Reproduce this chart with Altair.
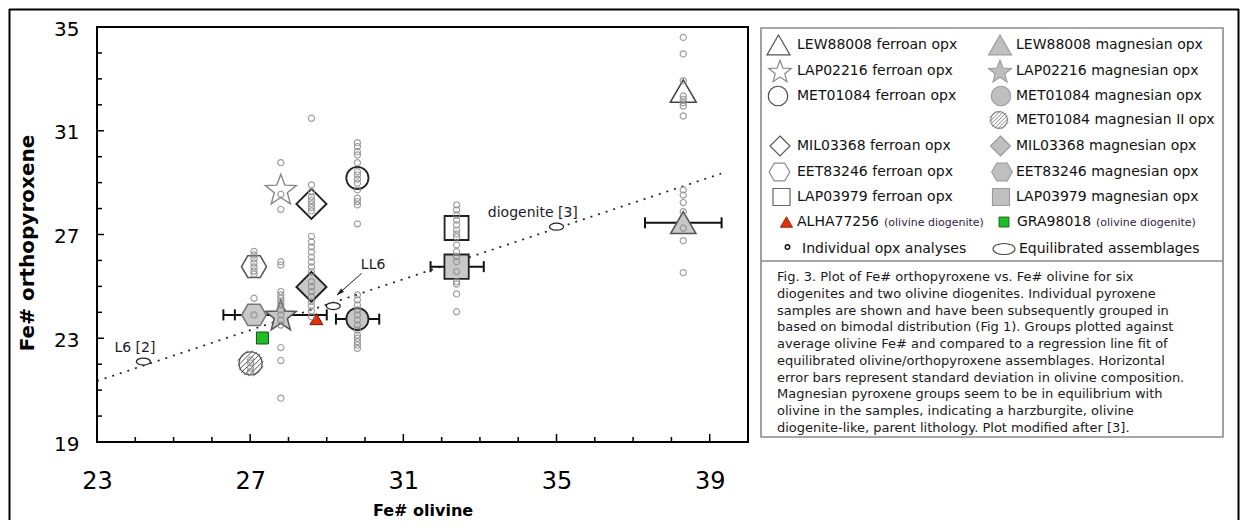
import altair as alt
import numpy as np
import pandas as pd

# ---------------- data ----------------
# individual opx analyses: olivine Fe# of each column and opx Fe# values
EET83246_ol = 27.10
EET83246_opx = [26.35, 26.21, 26.06, 25.90, 25.75, 25.59, 25.48, 24.54, 23.90]
MET01084_II_ol = 27.01
MET01084_II_opx = [22.16, 22.05, 21.85, 21.71]
LAP02216_ol = 27.80
LAP02216_opx = [29.77, 28.55, 27.97, 25.95, 25.82, 24.80, 24.67, 24.54, 24.41, 24.28,
                24.09, 23.90, 23.70, 23.51, 22.64, 22.14, 20.69]
MIL03368_ol = 28.60
MIL03368_opx = [31.48, 28.91, 28.64, 28.45, 28.31, 28.18, 28.04, 27.91, 26.93, 26.71,
                26.52, 26.33, 26.13, 25.94, 25.75, 25.56, 25.18, 24.99, 24.80, 24.60,
                24.41, 24.24, 24.05, 23.83]
MET01084_ol = 29.80
MET01084_opx = [30.54, 30.39, 30.19, 30.07, 29.77, 29.42, 29.29, 29.13, 28.98, 28.72,
                28.40, 28.27, 28.14, 27.41, 24.67, 24.48, 24.28, 24.09, 23.90, 23.70,
                23.51, 23.32, 23.12, 23.00, 22.87, 22.74, 22.61]
LAP03979_ol = 32.39
LAP03979_opx = [28.14, 27.95, 27.75, 27.56, 27.37, 27.17, 27.02, 26.90, 26.60, 26.34,
                26.15, 25.95, 25.57, 25.18, 25.09, 24.71, 24.02]
LEW88008_ol = 38.31
LEW88008_opx = [34.60, 33.96, 32.93, 32.34, 32.21, 32.08, 31.95, 31.57, 28.72, 28.52,
                28.23, 27.88, 27.24, 26.76, 25.53]

# group averages
group_name = ["LEW88008 ferroan", "LEW88008 magnesian", "LAP02216 ferroan", "LAP02216 magnesian",
              "MET01084 ferroan", "MET01084 magnesian", "MET01084 magnesian II",
              "MIL03368 ferroan", "MIL03368 magnesian", "EET83246 ferroan", "EET83246 magnesian",
              "LAP03979 ferroan", "LAP03979 magnesian", "ALHA77256", "GRA98018"]
group_ol = [38.31, 38.31, 27.80, 27.80, 29.80, 29.80, 27.01, 28.60, 28.60, 27.10, 27.10,
            32.39, 32.39, 28.73, 27.32]
group_opx = [32.53, 27.46, 28.75, 23.90, 29.18, 23.74, 22.03, 28.18, 24.98, 25.76, 23.90,
             27.25, 25.76, 23.74, 23.01]

# olivine standard deviation (horizontal error bars)
err_name = ["LEW88008 magnesian", "LAP02216 magnesian", "MET01084 magnesian",
            "EET83246 magnesian", "LAP03979 magnesian"]
err_lo = [37.31, 26.60, 29.24, 26.30, 31.71]
err_hi = [39.31, 29.00, 30.37, 27.90, 33.10]
err_opx = [27.45, 23.90, 23.74, 23.90, 25.76]

# equilibrated assemblages
eq_name = ["L6 [2]", "LL6", "diogenite [3]"]
eq_ol = [24.21, 29.17, 35.00]
eq_opx = [22.10, 24.24, 27.30]

# annotation labels
lab_text = ["L6 [2]", "LL6", "diogenite [3]"]
lab_ol = [23.99, 30.21, 34.38]
lab_opx = [22.63, 25.82, 27.83]

# LL6 arrow (start, end)
arrow_ol = [29.91, 29.27]
arrow_opx = [25.50, 24.67]

# regression line through equilibrated assemblages
reg_ol = [23.0, 39.3]
reg_opx = [21.35, 29.35]

# axis ticks
x_tick_labels = [23, 27, 31, 35, 39]
y_tick_labels = [19, 23, 27, 31, 35]
x_minor = [24, 25, 26, 28, 29, 30, 32, 33, 34, 36, 37, 38]
x_major = [27, 31, 35, 39]
y_minor = [20, 21, 22, 24, 25, 26, 28, 29, 30, 32, 33, 34]
y_major = [23, 27, 31]

# legend / caption text
legend_left = ["LEW88008 ferroan opx", "LAP02216 ferroan opx", "MET01084 ferroan opx",
               "MIL03368 ferroan opx", "EET83246 ferroan opx", "LAP03979 ferroan opx"]
legend_right = ["LEW88008 magnesian opx", "LAP02216 magnesian opx", "MET01084 magnesian opx",
                "MET01084 magnesian II opx", "MIL03368 magnesian opx", "EET83246 magnesian opx",
                "LAP03979 magnesian opx"]
caption = [
    "Fig. 3. Plot of Fe# orthopyroxene vs. Fe# olivine for six",
    "diogenites and two olivine diogenites.  Individual pyroxene",
    "samples are shown and have been subsequently grouped in",
    "based on bimodal distribution (Fig 1). Groups plotted against",
    "average olivine Fe# and compared to a regression line fit of",
    "equilibrated olivine/orthopyroxene assemblages. Horizontal",
    "error bars represent standard deviation in olivine composition.",
    "Magnesian pyroxene groups seem to be in equilibrium with",
    "olivine in the samples, indicating a harzburgite, olivine",
    "diogenite-like, parent lithology. Plot modified after [3].",
]

# ---------------- shapes ----------------
def star_path(ri=0.42, dy=0.095):
    pts = []
    for k in range(10):
        a = np.deg2rad(-90 + 36 * k)
        r = 1.0 if k % 2 == 0 else ri
        pts.append((r * np.cos(a), r * np.sin(a) + dy))
    return "M" + "L".join(f"{x:.4f},{y:.4f}" for x, y in pts) + "Z"

def hatch_path(step=0.4):
    segs = []
    c = -1.2
    while c <= 1.21:
        d = np.sqrt(max(2 - c * c, 0))
        x1, x2 = (c - d) / 2, (c + d) / 2
        segs.append(f"M{x1:.4f},{c - x1:.4f}L{x2:.4f},{c - x2:.4f}")
        c += step
    return "".join(segs)

TRI = "M0,-0.866L1,0.866L-1,0.866Z"
STAR = star_path()
DIAM = "M0,-1L1,0L0,1L-1,0Z"
HEX = "M-1,0L-0.5,-0.866L0.5,-0.866L1,0L0.5,0.866L-0.5,0.866Z"
SQR = "M-1,-1L1,-1L1,1L-1,1Z"
ELL = "M-1,0A1,0.5 0 1,0 1,0A1,0.5 0 1,0 -1,0Z"
HATCH = hatch_path()
VBAR = "M0,-1L0,1"
HEAD = "M0,0L0.45,1.6L-0.45,1.6Z"

FONT = "DejaVu Sans"
W, H = 651, 415
OX, OY = 97, 27  # page position of plot origin


def PX(v):
    return v - OX


def PY(v):
    return v - OY


xs = alt.Scale(domain=[23, 40], nice=False, zero=False)
ys = alt.Scale(domain=[19, 35], nice=False, zero=False)

x_axis = alt.Axis(title="Fe# olivine", values=x_tick_labels, ticks=False, domain=False, grid=False,
                  labelFont=FONT, labelFontSize=24, labelColor="#000", labelPadding=46,
                  labelBaseline="alphabetic", labelFlush=False, labelOverlap=False,
                  titleFont=FONT, titleFontSize=16, titleFontWeight="bold", titleColor="#000",
                  titleX=325.5, titleY=73, titleBaseline="alphabetic", titleAlign="center")
y_axis = alt.Axis(title="Fe# orthopyroxene", values=y_tick_labels, ticks=False, domain=False,
                  grid=False, labelFont=FONT, labelFontSize=20, labelColor="#000",
                  labelPadding=18, labelBaseline="middle", labelOffset=2, labelFlush=False,
                  labelOverlap=False, titleFont=FONT, titleFontSize=20, titleFontWeight="bold",
                  titleColor="#000", titleX=-64, titleY=215.5, titleAngle=270,
                  titleBaseline="alphabetic", titleAlign="center")


def X(f="ol"):
    return alt.X(f"{f}:Q", scale=xs, axis=x_axis)


def Y(f="opx"):
    return alt.Y(f"{f}:Q", scale=ys, axis=y_axis)


one = pd.DataFrame({"k": [0]})
layers = []

# ---------------- frame and boxes (page layout) ----------------
layers.append(alt.Chart(one).mark_rule(color="#000", strokeWidth=2).encode(
    x=alt.value(PX(9)), x2=alt.value(PX(1239)), y=alt.value(PY(9.5))))
layers.append(alt.Chart(one).mark_rule(color="#000", strokeWidth=2).encode(
    x=alt.value(PX(9.5)), y=alt.value(PY(9)), y2=alt.value(PY(531))))
layers.append(alt.Chart(one).mark_rule(color="#000", strokeWidth=2).encode(
    x=alt.value(PX(1238.5)), y=alt.value(PY(9)), y2=alt.value(PY(531))))
layers.append(alt.Chart(one).mark_rect(fill="white", stroke="#8a8a8a", strokeWidth=1.6).encode(
    x=alt.value(PX(761)), x2=alt.value(PX(1223)), y=alt.value(PY(28)), y2=alt.value(PY(437))))
layers.append(alt.Chart(one).mark_rule(color="#8a8a8a", strokeWidth=1.6).encode(
    x=alt.value(PX(761)), x2=alt.value(PX(1223)), y=alt.value(PY(261))))

# ---------------- plot content ----------------
reg = pd.DataFrame({"ol": reg_ol, "opx": reg_opx})
layers.append(alt.Chart(reg).mark_line(color="#222", strokeDash=[2, 6], strokeWidth=1.7).encode(
    x=X(), y=Y()))

err = pd.DataFrame({"name": err_name, "lo": err_lo, "hi": err_hi, "opx": err_opx})
layers.append(alt.Chart(err).mark_rule(color="#111", strokeWidth=2).encode(
    x=X("lo"), x2="hi:Q", y=Y()))
for f in ["lo", "hi"]:
    layers.append(alt.Chart(err).mark_point(shape=VBAR, size=121, stroke="#111", strokeWidth=2,
                                            opacity=1).encode(x=X(f), y=Y()))

eq = pd.DataFrame({"name": eq_name, "ol": eq_ol, "opx": eq_opx})
layers.append(alt.Chart(eq).mark_point(shape=ELL, size=196, filled=True, fill="white",
                                       stroke="#222", strokeWidth=1.2, opacity=1).encode(
    x=X(), y=Y()))

arr = pd.DataFrame({"ol": [arrow_ol[0]], "opx": [arrow_opx[0]],
                    "ol2": [arrow_ol[1]], "opx2": [arrow_opx[1]]})
layers.append(alt.Chart(arr).mark_rule(color="#222", strokeWidth=1).encode(
    x=X(), y=Y(), x2="ol2:Q", y2="opx2:Q"))
head = pd.DataFrame({"ol": [arrow_ol[1]], "opx": [arrow_opx[1]]})
layers.append(alt.Chart(head).mark_point(shape=HEAD, size=77, filled=True, fill="#222",
                                         stroke="#222", strokeWidth=0.5, angle=228.7,
                                         opacity=1).encode(x=X(), y=Y()))

groups = pd.DataFrame({"name": group_name, "ol": group_ol, "opx": group_opx})
GFILL = "#c8c8c8"
STYLE = {
    "LEW88008 ferroan": (TRI, 676, None, "#444", 1.5),
    "LEW88008 magnesian": (TRI, 640, GFILL, "#555", 1.5),
    "LAP02216 ferroan": (STAR, 1063, None, "#888", 1.4),
    "LAP02216 magnesian": (STAR, 1063, GFILL, "#555", 1.5),
    "MET01084 ferroan": ("circle", 491, None, "#222", 1.8),
    "MET01084 magnesian": ("circle", 491, GFILL, "#222", 1.8),
    "MET01084 magnesian II": ("circle", 531, "white", "#555", 1.3),
    "MIL03368 ferroan": (DIAM, 900, None, "#222", 2.0),
    "MIL03368 magnesian": (DIAM, 900, GFILL, "#222", 2.0),
    "EET83246 ferroan": (HEX, 625, None, "#555", 1.5),
    "EET83246 magnesian": (HEX, 600, GFILL, "#777", 1.5),
    "LAP03979 ferroan": (SQR, 576, None, "#222", 1.8),
    "LAP03979 magnesian": (SQR, 590, GFILL, "#222", 1.8),
    "ALHA77256": (TRI, 169, "#e2300e", "#7a1a05", 1.0),
    "GRA98018": (SQR, 144, "#1fbe22", "#1d4d1d", 1.0),
}
for name in group_name:
    shape, size, fill, stroke, sw = STYLE[name]
    if fill is None:
        mk = alt.Chart(groups).mark_point(shape=shape, size=size, filled=False, stroke=stroke,
                                          strokeWidth=sw, opacity=1)
    else:
        mk = alt.Chart(groups).mark_point(shape=shape, size=size, filled=True, fill=fill,
                                          stroke=stroke, strokeWidth=sw, opacity=1)
    layers.append(mk.transform_filter(alt.datum.name == name).encode(x=X(), y=Y()))
# hatching of MET01084 magnesian II
layers.append(alt.Chart(groups).mark_point(shape=HATCH, size=676, filled=False, stroke="#555",
                                           strokeWidth=1, opacity=1).transform_filter(
    alt.datum.name == "MET01084 magnesian II").encode(x=X(), y=Y()))

cols = [(EET83246_ol, EET83246_opx), (MET01084_II_ol, MET01084_II_opx),
        (LAP02216_ol, LAP02216_opx), (MIL03368_ol, MIL03368_opx),
        (MET01084_ol, MET01084_opx), (LAP03979_ol, LAP03979_opx),
        (LEW88008_ol, LEW88008_opx)]
ind = pd.DataFrame([{"ol": c, "opx": v} for c, vals in cols for v in vals])
layers.append(alt.Chart(ind).mark_point(shape="circle", size=38, filled=False, stroke="#8f8f8f",
                                        strokeWidth=1.2, opacity=0.85).encode(x=X(), y=Y()))

labs = pd.DataFrame({"t": lab_text, "ol": lab_ol, "opx": lab_opx})
layers.append(alt.Chart(labs).mark_text(font=FONT, fontSize=14, color="#1a1a2a",
                                        baseline="middle", align="center").encode(
    x=X(), y=Y(), text="t:N"))

# axis ticks (inward)
for vals, ln in [(x_minor, 5), (x_major, 8)]:
    d = pd.DataFrame({"ol": vals})
    layers.append(alt.Chart(d).mark_rule(color="#000", strokeWidth=1.5).encode(
        x=X(), y=alt.value(H), y2=alt.value(H - ln)))
for vals, ln in [(y_minor, 5), (y_major, 7)]:
    d = pd.DataFrame({"opx": vals})
    layers.append(alt.Chart(d).mark_rule(color="#000", strokeWidth=1.5).encode(
        y=Y(), x=alt.value(0), x2=alt.value(ln)))

# ---------------- legend ----------------
ROW_Y = [45, 71, 96, 120, 146, 172, 197, 222, 249]
LFILL = "#bfbfbf"


def sym(x, y, shape, size, fill, stroke, sw=1.2):
    if fill is None:
        m = alt.Chart(one).mark_point(shape=shape, size=size, filled=False, stroke=stroke,
                                      strokeWidth=sw, opacity=1)
    else:
        m = alt.Chart(one).mark_point(shape=shape, size=size, filled=True, fill=fill,
                                      stroke=stroke, strokeWidth=sw, opacity=1)
    return m.encode(x=alt.value(PX(x)), y=alt.value(PY(y)))


def txt(x, y, s, size=14, color="#111"):
    return alt.Chart(one).mark_text(text=s, font=FONT, fontSize=size, color=color, align="left",
                                    baseline="middle").encode(x=alt.value(PX(x)),
                                                              y=alt.value(PY(y)))


left_syms = [(778.5, TRI, 529, "#555"), (780, STAR, 560, "#888"), (778, "circle", 380, "#444"),
             (780, DIAM, 400, "#555"), (779.5, HEX, 428, "#888"), (781.5, SQR, 289, "#666")]
left_rows = [0, 1, 2, 4, 5, 6]
for (sx, sh, sz, st), r, lab in zip(left_syms, left_rows, legend_left):
    layers.append(sym(sx, ROW_Y[r], sh, sz, None, st))
    layers.append(txt(797, ROW_Y[r], lab))

right_syms = [(1000, TRI, 529), (1000, STAR, 580), (1001, "circle", 380), (999, "circle", 283),
              (1000.5, DIAM, 400), (1002, HEX, 428), (1001, SQR, 289)]
for r, ((sx, sh, sz), lab) in enumerate(zip(right_syms, legend_right)):
    if r == 3:
        layers.append(sym(sx, ROW_Y[r], sh, sz, "white", "#888", 1.1))
        layers.append(sym(sx, ROW_Y[r], HATCH, 361, None, "#777", 0.9))
    else:
        layers.append(sym(sx, ROW_Y[r], sh, sz, LFILL, "#999", 1.1))
    layers.append(txt(1016, ROW_Y[r], lab))

layers.append(sym(786.5, ROW_Y[7], TRI, 150, "#e2300e", "#7a1a05", 0.8))
layers.append(txt(797, ROW_Y[7], "ALHA77256"))
layers.append(txt(884, ROW_Y[7] + 1, "(olivine diogenite)", 11, "#332244"))
layers.append(sym(1004, ROW_Y[7], SQR, 100, "#1fbe22", "#1d4d1d", 0.8))
layers.append(txt(1017, ROW_Y[7], "GRA98018"))
layers.append(txt(1096, ROW_Y[7] + 1, "(olivine diogenite)", 11, "#332244"))
layers.append(sym(787.5, ROW_Y[8] - 2, "circle", 20, None, "#111", 1.4))
layers.append(txt(802, ROW_Y[8], "Individual opx analyses"))
layers.append(sym(1004, ROW_Y[8], ELL, 484, "white", "#444", 1.1))
layers.append(txt(1019, ROW_Y[8], "Equilibrated assemblages"))

for i, line in enumerate(caption):
    layers.append(txt(777, 277 + i * 16.78, line, 13, "#1a1a1a"))

chart = alt.layer(*layers).properties(
    width=W, height=H,
    padding={"left": 89, "top": 19, "right": 492, "bottom": 78},
    autosize=alt.AutoSizeParams(type="none"),
    background="white",
).configure_view(stroke="#000", strokeWidth=2)

chart.save("out.html", embed_options={"renderer": "svg", "actions": False})
